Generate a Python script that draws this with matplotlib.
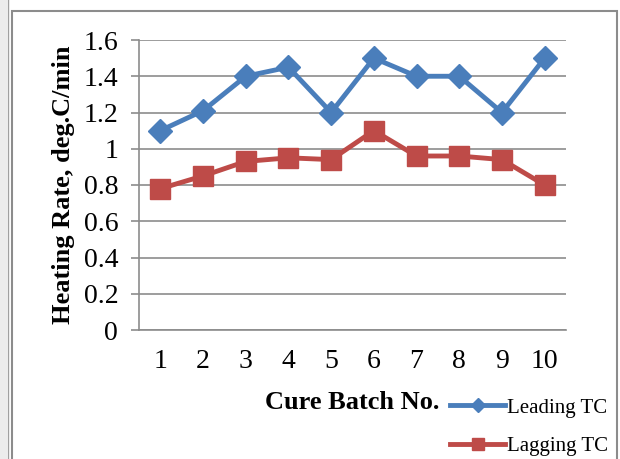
import matplotlib
matplotlib.use("Agg")
import matplotlib.pyplot as plt
from matplotlib.patches import Rectangle
from matplotlib.lines import Line2D

batches = [1, 2, 3, 4, 5, 6, 7, 8, 9, 10]
leading_tc = [1.10, 1.21, 1.40, 1.45, 1.20, 1.50, 1.40, 1.40, 1.20, 1.50]
lagging_tc = [0.78, 0.85, 0.93, 0.95, 0.94, 1.10, 0.96, 0.96, 0.94, 0.80]
y_ticks = [0, 0.2, 0.4, 0.6, 0.8, 1.0, 1.2, 1.4, 1.6]
y_tick_labels = ["0", "0.2", "0.4", "0.6", "0.8", "1", "1.2", "1.4", "1.6"]

plt.rcParams['font.family'] = ['Liberation Serif', 'DejaVu Serif']

W, H = 620, 459
fig = plt.figure(figsize=(W / 100, H / 100), dpi=100)

# outer frame
fig.add_artist(Rectangle((0, 0), 7 / W, 1, transform=fig.transFigure,
                         facecolor='#ececec', edgecolor='none'))
fig.add_artist(Line2D([8 / W, 8 / W], [0, 1], transform=fig.transFigure,
                      color='#a0a0a0', lw=1))
fig.add_artist(Rectangle((11.5 / W, -0.1), (617 - 11.5) / W, (H - 11.5) / H + 0.1,
                         transform=fig.transFigure, facecolor='none',
                         edgecolor='#8c8c8c', lw=1.5))

ax = fig.add_axes([139 / W, (H - 330) / H, (566 - 139) / W, 290 / H])

blue = '#4a7ebb'
red = '#be4b48'
ax.plot(batches, leading_tc, color=blue, lw=3.5, marker='D', ms=12.5,
        markerfacecolor=blue, markeredgecolor=blue, label='Leading TC', zorder=3)
ax.plot(batches, lagging_tc, color=red, lw=3.5, marker='s', ms=14.5,
        markerfacecolor=red, markeredgecolor=red, label='Lagging TC', zorder=3)

ax.set_xlim(0.5, 10.5)
ax.set_ylim(0, 1.6)
ax.set_xticks(batches)
ax.set_xticklabels([str(b) for b in batches])
ax.set_yticks(y_ticks)
ax.set_yticklabels(y_tick_labels)

ax.yaxis.grid(True, color='#8c8c8c', lw=1.2)
ax.set_axisbelow(True)
for s in ['top', 'right']:
    ax.spines[s].set_visible(False)
for s in ['left', 'bottom']:
    ax.spines[s].set_color('#8c8c8c')
    ax.spines[s].set_linewidth(1.2)

ax.tick_params(axis='x', length=0, pad=14, labelsize=20)
ax.tick_params(axis='y', length=6, width=1.2, color='#8c8c8c', pad=9, labelsize=20)

ax.set_xlabel('Cure Batch No.', fontsize=19, fontweight='bold', labelpad=12)
ax.set_ylabel('Heating Rate, deg.C/min', fontsize=19, fontweight='bold', labelpad=6)

leg = ax.legend(loc='center left', bbox_to_anchor=(450 / W, (H - 427) / H),
                bbox_transform=fig.transFigure, frameon=False, fontsize=15,
                handlelength=2.65, handletextpad=0.1, labelspacing=0.9,
                markerscale=0.55, borderpad=0, borderaxespad=0)

fig.savefig('out.png', dpi=100)
